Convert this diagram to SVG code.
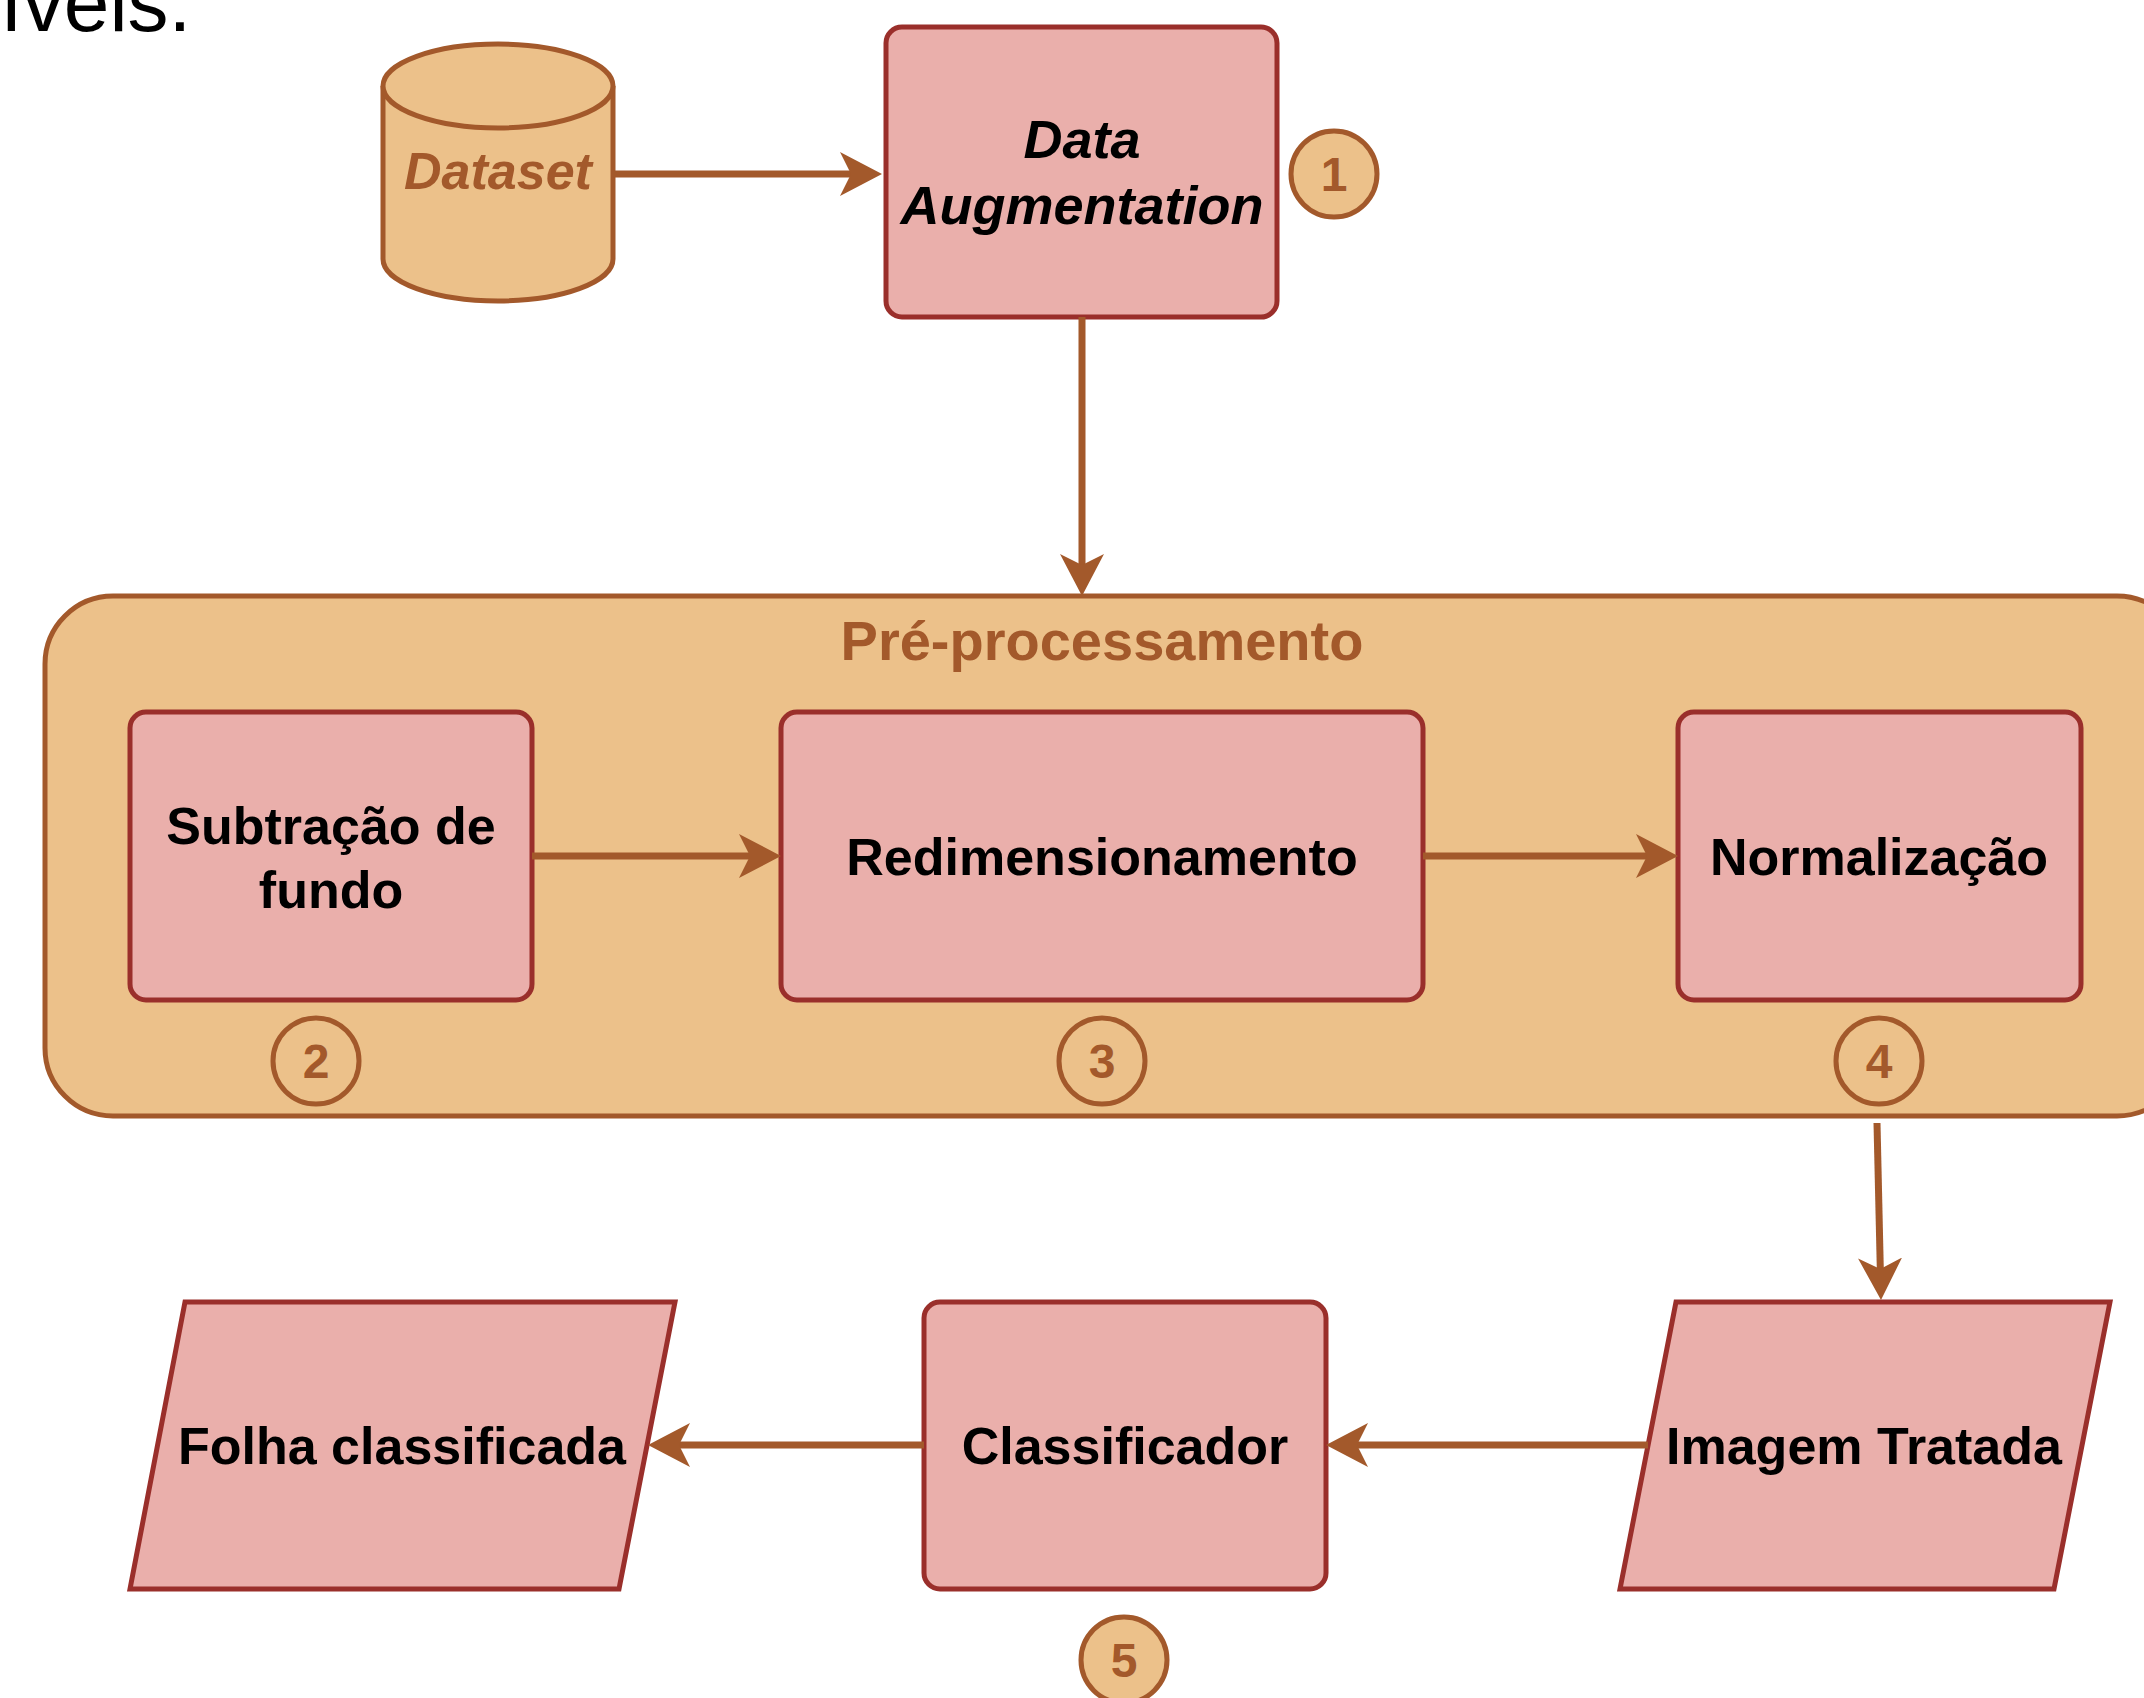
<svg xmlns="http://www.w3.org/2000/svg" width="2144" height="1698" viewBox="0 0 2144 1698">
  <style>
    .box { fill: #eaafab; stroke: #9a2f2b; stroke-width: 5; }
    .stage { fill: #ecc18a; stroke: #a3592b; stroke-width: 5; }
    .badge { stroke: #a3592b; stroke-width: 5; }
    .label { font-family: "Liberation Sans", Arial, sans-serif; font-weight: bold; font-size: 52px; fill: #000; text-anchor: middle; }
    .brown { fill: #a3592b; }
    .num { font-family: "Liberation Sans", Arial, sans-serif; font-weight: bold; font-size: 48px; fill: #a3592b; text-anchor: middle; }
    .edge { fill: none; stroke: #a3592b; stroke-width: 7; }
  </style>
  <defs>
    <marker id="arrow" viewBox="0 0 42 44" refX="11" refY="22" markerWidth="42" markerHeight="44" markerUnits="userSpaceOnUse" orient="auto">
      <path d="M0,0 L42,22 L0,44 L11,22 Z" fill="#a3592b"/>
    </marker>
  </defs>

  <rect width="2144" height="1698" fill="#ffffff"/>

  <!-- tail of the preceding paragraph, cut at the top edge -->
  <text x="0" y="31" font-family="'Liberation Sans', Arial, sans-serif" font-size="82" fill="#000">íveis.</text>

  <!-- pre-processing container -->
  <g id="preprocessamento">
    <rect class="stage" x="45" y="596" width="2140" height="520" rx="68" ry="68"/>
    <text class="label brown" x="1102" y="660" style="font-size:56px">Pré-processamento</text>
  </g>

  <g id="dataset">
    <path class="stage" d="M383,86 L383,259 A115,42 0 0 0 613,259 L613,86 A115,42 0 0 0 383,86 Z"/>
    <path class="stage" d="M383,86 A115,42 0 0 0 613,86" fill="none"/>
    <text class="label brown" x="498" y="189" font-style="italic">Dataset</text>
  </g>

  <g id="data-augmentation">
    <rect class="box" x="886" y="27" width="391" height="290" rx="16" ry="16"/>
    <text class="label" x="1082" y="158" font-style="italic" style="font-size:54px">Data</text>
    <text class="label" x="1082" y="224" font-style="italic" style="font-size:54px">Augmentation</text>
  </g>

  <g id="subtracao">
    <rect class="box" x="130" y="712" width="402" height="288" rx="16" ry="16"/>
    <text class="label" x="331" y="844">Subtração de</text>
    <text class="label" x="331" y="908">fundo</text>
  </g>

  <g id="redimensionamento">
    <rect class="box" x="781" y="712" width="642" height="288" rx="16" ry="16"/>
    <text class="label" x="1102" y="875">Redimensionamento</text>
  </g>

  <g id="normalizacao">
    <rect class="box" x="1678" y="712" width="403" height="288" rx="16" ry="16"/>
    <text class="label" x="1879" y="875">Normalização</text>
  </g>

  <g id="imagem-tratada">
    <polygon class="box" points="1676,1302 2110,1302 2054,1589 1620,1589"/>
    <text class="label" x="1864" y="1464">Imagem Tratada</text>
  </g>

  <g id="classificador">
    <rect class="box" x="924" y="1302" width="402" height="287" rx="16" ry="16"/>
    <text class="label" x="1125" y="1464">Classificador</text>
  </g>

  <g id="folha-classificada">
    <polygon class="box" points="185,1302 675,1302 619,1589 130,1589"/>
    <text class="label" x="402" y="1464">Folha classificada</text>
  </g>

  <!-- step numbers -->
  <g id="step-1">
    <circle class="badge" cx="1334" cy="174" r="43" fill="#ecc18a"/>
    <text class="num" x="1334" y="191">1</text>
  </g>
  <g id="step-2">
    <circle class="badge" cx="316" cy="1061" r="43" fill="none"/>
    <text class="num" x="316" y="1078">2</text>
  </g>
  <g id="step-3">
    <circle class="badge" cx="1102" cy="1061" r="43" fill="none"/>
    <text class="num" x="1102" y="1078">3</text>
  </g>
  <g id="step-4">
    <circle class="badge" cx="1879" cy="1061" r="43" fill="none"/>
    <text class="num" x="1879" y="1078">4</text>
  </g>
  <g id="step-5">
    <circle class="badge" cx="1124" cy="1660" r="43" fill="#ecc18a"/>
    <text class="num" x="1124" y="1677">5</text>
  </g>

  <g id="connectors">
    <line class="edge" x1="613" y1="174" x2="851" y2="174" marker-end="url(#arrow)"/>
    <line class="edge" x1="1082" y1="317" x2="1082" y2="565" marker-end="url(#arrow)"/>
    <line class="edge" x1="532" y1="856" x2="750" y2="856" marker-end="url(#arrow)"/>
    <line class="edge" x1="1423" y1="856" x2="1647" y2="856" marker-end="url(#arrow)"/>
    <line class="edge" x1="1877" y1="1123" x2="1880.3" y2="1269" marker-end="url(#arrow)"/>
    <line class="edge" x1="1648" y1="1445" x2="1357" y2="1445" marker-end="url(#arrow)"/>
    <line class="edge" x1="924" y1="1445" x2="679" y2="1445" marker-end="url(#arrow)"/>
  </g>
</svg>
